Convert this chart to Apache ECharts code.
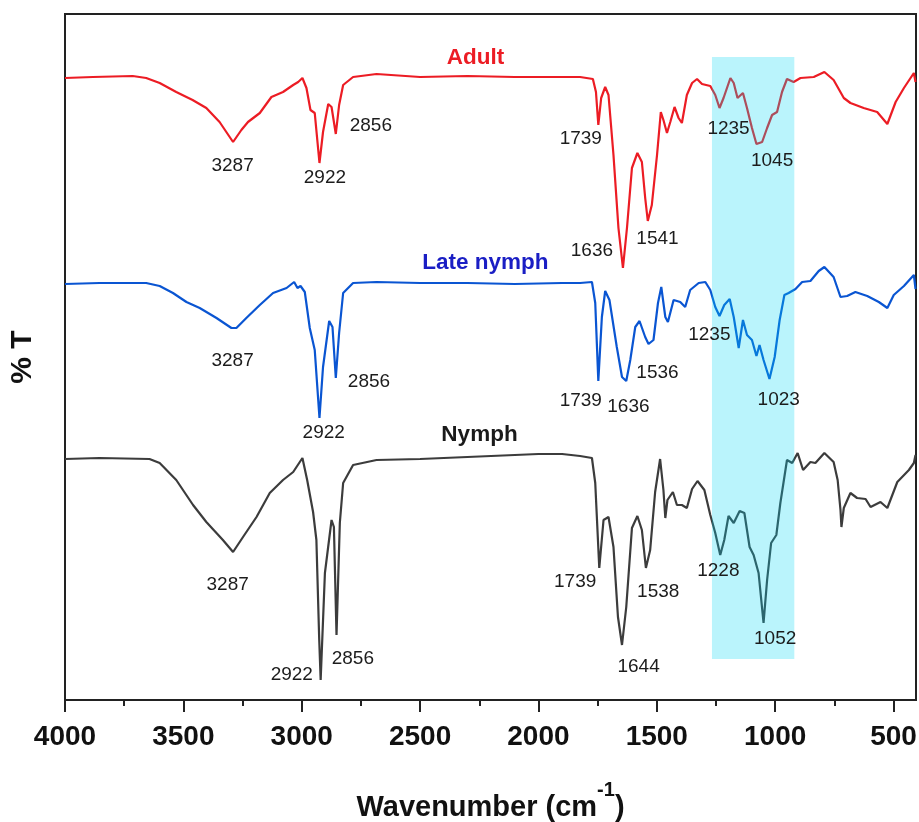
<!DOCTYPE html>
<html><head><meta charset="utf-8">
<script src="https://cdn.jsdelivr.net/npm/echarts@6/dist/echarts.min.js"></script>
<style>html,body{margin:0;padding:0;background:#fff}#c{width:919px;height:822px}</style>
</head><body><div id="c"></div>
<script>
// Wavenumber (cm-1), relative transmittance (arbitrary offset units)
const adult = [[4000,622],[3882,623],[3714,624],[3657,622],[3600,617],[3530,608],[3461,600],[3403,592],[3347,578],[3290,558],[3255,570],[3227,578],[3177,587],[3128,603],[3079,608],[3036,615],[3015,618],[2997,622],[2980,612],[2963,590],[2945,587],[2925,537],[2910,568],[2888,596],[2874,593],[2856,566],[2842,595],[2825,615],[2783,623],[2684,626],[2500,623],[2300,624],[2100,623],[1900,623],[1824,623],[1770,621],[1757,608],[1747,575],[1735,602],[1718,613],[1704,605],[1683,545],[1662,472],[1643,432],[1626,472],[1605,532],[1582,547],[1563,538],[1549,502],[1538,479],[1521,495],[1499,545],[1483,588],[1472,580],[1457,567],[1443,578],[1425,593],[1408,582],[1394,577],[1373,605],[1351,617],[1330,621],[1309,616],[1274,614],[1253,605],[1235,592],[1218,602],[1189,622],[1175,617],[1159,602],[1136,607],[1119,592],[1098,572],[1079,556],[1055,558],[1034,572],[1013,585],[992,588],[971,608],[950,621],[922,618],[893,622],[837,623],[792,628],[753,620],[710,602],[682,597],[626,592],[569,588],[526,576],[491,598],[456,612],[414,627],[407,618]];
const lateNymph = [[4000,416],[3854,417],[3657,417],[3600,414],[3544,407],[3487,398],[3431,392],[3360,382],[3297,372],[3276,372],[3234,382],[3177,395],[3121,407],[3064,412],[3032,418],[3018,412],[3005,414],[2987,408],[2966,372],[2945,350],[2925,282],[2910,333],[2884,379],[2870,373],[2856,322],[2842,367],[2825,407],[2783,417],[2684,418],[2500,417],[2300,417],[2100,416],[1900,417],[1824,417],[1774,418],[1760,397],[1747,319],[1732,383],[1718,409],[1700,400],[1669,353],[1647,323],[1629,319],[1612,340],[1591,373],[1573,379],[1549,363],[1535,356],[1514,360],[1495,397],[1481,413],[1464,383],[1453,378],[1429,400],[1401,398],[1380,393],[1359,410],[1323,417],[1295,418],[1274,410],[1253,393],[1235,384],[1215,395],[1192,401],[1175,383],[1154,352],[1136,380],[1119,365],[1098,360],[1079,344],[1066,355],[1049,340],[1024,321],[1002,343],[981,380],[961,405],[943,407],[914,411],[886,418],[851,419],[816,429],[792,433],[753,423],[724,403],[696,404],[661,408],[611,404],[562,398],[526,392],[499,405],[456,414],[414,425],[407,411]];
const nymph = [[4000,241],[3854,242],[3643,241],[3600,237],[3530,220],[3459,195],[3403,178],[3333,160],[3290,148],[3248,163],[3191,183],[3135,207],[3079,220],[3036,228],[2997,242],[2977,220],[2952,188],[2938,160],[2926,60],[2920,20],[2902,127],[2874,180],[2864,173],[2853,65],[2839,177],[2825,217],[2783,235],[2684,240],[2500,241],[2300,243],[2100,245],[2000,246],[1900,246],[1824,244],[1774,242],[1760,217],[1743,132],[1725,180],[1704,183],[1683,153],[1664,83],[1647,55],[1629,93],[1605,172],[1582,184],[1563,170],[1546,132],[1528,150],[1507,208],[1486,241],[1472,210],[1464,182],[1455,200],[1432,208],[1415,195],[1394,195],[1373,192],[1351,211],[1328,219],[1299,210],[1274,185],[1253,167],[1232,145],[1215,160],[1197,184],[1175,177],[1150,189],[1130,187],[1108,153],[1091,145],[1070,127],[1049,77],[1034,120],[1017,157],[995,165],[978,197],[950,240],[928,237],[905,247],[882,230],[851,238],[830,237],[792,247],[753,238],[736,220],[724,190],[720,173],[710,192],[682,207],[654,202],[618,201],[597,193],[555,198],[526,192],[484,218],[435,230],[414,237],[407,245]];

const majorTicks = [500,1000,1500,2000,2500,3000,3500,4000];
const minorTicks = [750,1250,1750,2250,2750,3250,3750];

// peak annotations: [wavenumber, value, text]
const adultPeaks = [[3292,534,'3287'],[2902,522,'2922'],[2708,574,'2856'],[1821,561,'1739'],[1774,449,'1636'],[1497,461,'1541'],[1197,571,'1235'],[1013,539,'1045']];
const lateNymphPeaks = [[3292,339,'3287'],[2907,267,'2922'],[2716,318,'2856'],[1821,299,'1739'],[1620,293,'1636'],[1497,327,'1536'],[1278,365,'1235'],[985,300,'1023']];
const nymphPeaks = [[3313,115,'3287'],[3042,25,'2922'],[2784,41,'2856'],[1845,118,'1739'],[1577,33,'1644'],[1494,108,'1538'],[1240,129,'1228'],[1000,61,'1052']];
const seriesNames = [[2266,642,'Adult'],[2224,437,'Late nymph'],[2249,265,'Nymph']];
const highlight = [[1267,643],[919,41]];

const FONT = 'Liberation Sans';
const RED = '#ec1c24', BLUE = '#0a55d2', GRAY = '#3c3c3c';
const NAMECOL = [RED, '#1a1ec4', '#1a1a1a'];
const chart = echarts.init(document.getElementById('c'), null, {renderer:'canvas'});

function labelSeries(data, size, weight, colors){
  return {type:'scatter', symbolSize:1, silent:true, z:20,
    data:data.map((d,i)=>({value:d, label:{color:colors[i % colors.length]}})),
    itemStyle:{color:'rgba(0,0,0,0)', opacity:1},
    label:{show:true, position:'inside', formatter:p=>p.value[2],
      fontSize:size, fontWeight:weight, fontFamily:FONT}};
}
function lineSeries(name, data, color){
  return {name:name, type:'line', data:data, showSymbol:false, symbol:'none', z:2,
    lineStyle:{color:color, width:2.2}, silent:true};
}

chart.setOption({
  animation:false,
  backgroundColor:'#fff',
  grid:{left:65, right:3, top:14, bottom:122, show:true, borderColor:'#222', borderWidth:2,
    containLabel:false, outerBoundsMode:'none'},
  xAxis:[{
    type:'value', min:405, max:4000, inverse:true,
    axisLine:{show:true, lineStyle:{color:'#222', width:2}},
    axisTick:{show:true, inside:false, length:12, customValues:majorTicks, lineStyle:{color:'#222', width:2}},
    axisLabel:{show:true, customValues:majorTicks, formatter:v=>String(v), fontSize:28, fontWeight:'bold', fontFamily:FONT, color:'#111', margin:23},
    splitLine:{show:false},
    name:'{t|Wavenumber (cm}{s|-1}{t|)}', nameLocation:'middle', nameGap:92,
    nameTextStyle:{rich:{
      t:{fontSize:29, fontWeight:'bold', fontFamily:FONT, color:'#111', lineHeight:30, verticalAlign:'bottom'},
      s:{fontSize:20, fontWeight:'bold', fontFamily:FONT, color:'#111', lineHeight:20, padding:[0,0,22,0], verticalAlign:'bottom'}
    }}
  },{
    type:'value', min:405, max:4000, inverse:true, position:'bottom',
    axisLine:{show:false},
    axisTick:{show:true, inside:false, length:6, customValues:minorTicks, lineStyle:{color:'#222', width:2}},
    axisLabel:{show:false},
    splitLine:{show:false}
  }],
  yAxis:{
    type:'value', min:0, max:686,
    axisLine:{show:true, lineStyle:{color:'#222', width:2}},
    axisTick:{show:false}, axisLabel:{show:false}, splitLine:{show:false},
    name:'% T', nameLocation:'middle', nameGap:27, nameRotate:90,
    nameTextStyle:{fontSize:30, fontWeight:'bold', fontFamily:FONT, color:'#111'}
  },
  series:[
    lineSeries('Nymph', nymph, GRAY),
    lineSeries('Late nymph', lateNymph, BLUE),
    lineSeries('Adult', adult, RED),
    {type:'line', data:[], silent:true,
      markArea:{silent:true, z:10, itemStyle:{color:'rgba(0,215,245,0.27)', borderWidth:0},
        data:[[{coord:highlight[0]},{coord:highlight[1]}]]}},
    labelSeries(adultPeaks, 19, 'normal', ['#1c1c1c']),
    labelSeries(lateNymphPeaks, 19, 'normal', ['#1c1c1c']),
    labelSeries(nymphPeaks, 19, 'normal', ['#1c1c1c']),
    labelSeries(seriesNames, 22.5, 'bold', NAMECOL)
  ]
});
</script></body></html>
